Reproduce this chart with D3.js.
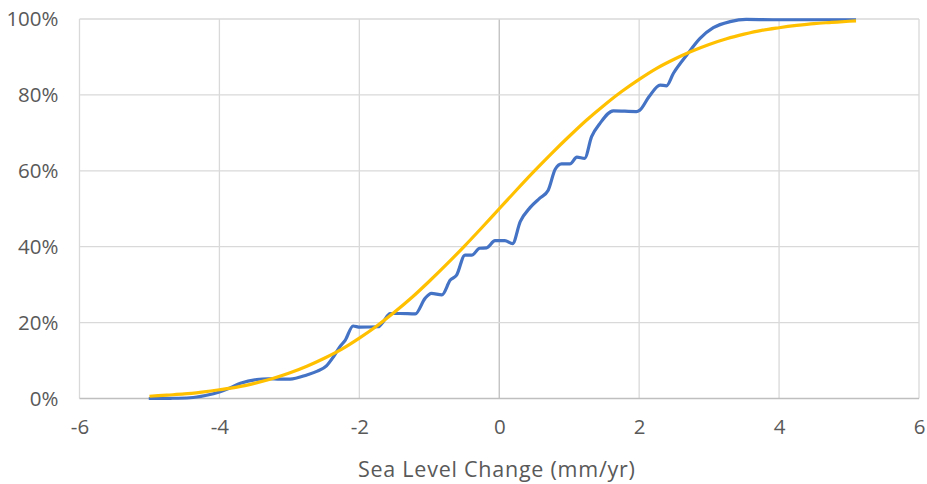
<!DOCTYPE html>
<html>
<head>
<meta charset="utf-8">
<script src="https://cdn.jsdelivr.net/npm/d3@7"></script>
<style>
  body { margin: 0; background: #fff; }
  text { font-family: "Open Sans", Lato, sans-serif; fill: #595959; }
</style>
</head>
<body>
<svg id="chart" width="927" height="484"></svg>
<script>
const observedX = [-5.01, -4.7, -4.42, -4.2, -3.99, -3.85, -3.7, -3.47, -3.3, -3.13, -2.99, -2.75, -2.6, -2.47,
  -2.37, -2.28, -2.2, -2.09, -1.99, -1.73, -1.66, -1.56, -1.42, -1.2, -1.06, -0.97, -0.82, -0.7, -0.61,
  -0.49, -0.39, -0.28, -0.18, -0.06, 0.08, 0.19, 0.3, 0.44, 0.58, 0.7, 0.8, 0.89, 1.01, 1.11, 1.22,
  1.32, 1.44, 1.63, 1.96, 2.01, 2.14, 2.3, 2.39, 2.49, 2.68, 2.87, 3.06, 3.3, 3.53, 3.91, 5.1]
const observedPct = [0, 0.05, 0.2, 0.8, 1.8, 2.8, 4.0, 5.0, 5.2, 5.1, 5.1, 6.2, 7.2, 8.6,
  11, 13.6, 15.4, 19.1, 18.8, 18.9, 20.2, 22.4, 22.4, 22.3, 26.4, 27.7, 27.3, 31.2, 32.5,
  37.8, 37.8, 39.6, 39.7, 41.6, 41.6, 40.8, 46.6, 50.3, 52.8, 54.9, 60.4, 61.8, 61.8, 63.6, 63.3,
  69.0, 72.5, 75.8, 75.6, 76, 79.5, 82.6, 82.4, 85.7, 90.5, 94.9, 97.7, 99.3, 99.9, 99.8, 99.8]

// fitted curve (yellow)
const fittedX = [-5, -4.75, -4.5, -4.25, -4, -3.75, -3.5, -3.25, -3, -2.75, -2.5, -2.25, -2, -1.75, -1.5,
  -1.25, -1, -0.75, -0.5, -0.25, 0, 0.25, 0.5, 0.75, 1, 1.25, 1.5, 1.75, 2, 2.25, 2.5, 2.75, 3,
  3.25, 3.5, 3.75, 4, 4.25, 4.5, 4.75, 5, 5.1]
const fittedPct = [0.6, 0.9, 1.2, 1.7, 2.3, 3.0, 4.0, 5.2, 6.7, 8.5, 10.6, 13.0, 15.9, 19.1, 22.7,
  26.6, 30.9, 35.4, 40.1, 45.0, 50, 55.0, 59.9, 64.6, 69.1, 73.4, 77.3, 80.9, 84.1, 87.0, 89.4, 91.5, 93.3,
  94.8, 96.0, 97.0, 97.7, 98.3, 98.8, 99.1, 99.4, 99.5]

const xTicks = [-6, -4, -2, 0, 2, 4, 6]
const yTicks = [0, 20, 40, 60, 80, 100]
const xTitle = "Sea Level Change (mm/yr)"

const margin = { top: 19, right: 8, bottom: 85.5, left: 79.5 },
  width = 927 - margin.left - margin.right,
  height = 484 - margin.top - margin.bottom

const svg = d3.select("#chart")
const g = svg.append("g")
  .attr("transform", "translate(" + margin.left + "," + margin.top + ")")

const x = d3.scaleLinear().domain([-6, 6]).range([0, 839.5])
const y = d3.scaleLinear().domain([0, 100]).range([height, 0])

// gridlines
g.append("g").selectAll("line.v")
  .data(xTicks).enter().append("line")
  .attr("x1", d => x(d)).attr("x2", d => x(d))
  .attr("y1", 0).attr("y2", height)
  .attr("stroke", d => d === 0 ? "#bfbfbf" : "#d9d9d9")
  .attr("stroke-width", 1.3)

g.append("g").selectAll("line.h")
  .data(yTicks).enter().append("line")
  .attr("x1", 0).attr("x2", x(6))
  .attr("y1", d => y(d)).attr("y2", d => y(d))
  .attr("stroke", d => d === 0 ? "#bfbfbf" : "#d9d9d9")
  .attr("stroke-width", 1.3)

// tick labels
const yAxis = d3.axisLeft(y).tickValues(yTicks).tickFormat(d => d + "%").tickSize(0).tickPadding(21)
const xAxis = d3.axisBottom(x).tickValues(xTicks).tickFormat(d => String(d)).tickSize(0).tickPadding(21)

const ya = g.append("g").call(yAxis)
const xa = g.append("g").attr("transform", "translate(0," + height + ")").call(xAxis)
ya.select(".domain").remove()
xa.select(".domain").remove()
ya.selectAll("text").style("font-size", "20.5px").attr("fill", "#595959")
xa.selectAll("text").style("font-size", "20.5px").attr("fill", "#595959")

g.append("text")
  .attr("x", x(-0.04))
  .attr("y", height + 78)
  .attr("text-anchor", "middle")
  .attr("textLength", 277)
  .attr("lengthAdjust", "spacing")
  .style("font-size", "21.5px")
  .text(xTitle)

// series
const line = d3.line()
  .x(d => x(d[0]))
  .y(d => y(d[1]))
  .curve(d3.curveMonotoneX)

g.append("path")
  .datum(d3.zip(observedX, observedPct))
  .attr("fill", "none")
  .attr("stroke", "#4472C4")
  .attr("stroke-width", 3.2)
  .attr("stroke-linejoin", "round")
  .attr("d", line)

g.append("path")
  .datum(d3.zip(fittedX, fittedPct))
  .attr("fill", "none")
  .attr("stroke", "#FFC000")
  .attr("stroke-width", 3.2)
  .attr("stroke-linejoin", "round")
  .attr("d", line)
</script>
</body>
</html>
